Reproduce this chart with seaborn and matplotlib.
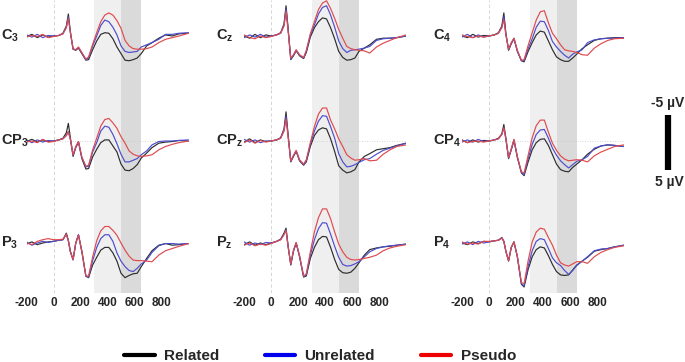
import pandas as pd
import matplotlib.pyplot as plt
from matplotlib.lines import Line2D
import seaborn as sns

sns.set_style("white")
plt.rcParams["font.family"] = ["Liberation Sans", "DejaVu Sans"]
plt.rcParams["mathtext.default"] = "regular"

# ---- data (µV, negative plotted up) ----
time_ms = [-200, -160, -120, -80, -40, 0, 40, 70, 95, 110, 125, 145, 165, 185, 210, 240, 260, 290,
           320, 350, 380, 410, 440, 470, 500, 530, 560, 590, 620, 650, 690, 730, 780, 830, 880, 930, 1000]
conditions = ["Related", "Unrelated", "Pseudo"]
electrodes = ["C$_3$", "C$_z$", "C$_4$",
              "CP$_3$", "CP$_z$", "CP$_4$",
              "P$_3$", "P$_z$", "P$_4$"]
xtick_values = [-200, 0, 200, 400, 600, 800]
window_n400 = [300, 500]
window_late = [500, 650]
scale_uv = [-5, 5]

c3_related = [0.1, -0.3, 0.3, -0.2, 0.2, 0.0, -0.1, -0.5, -1.8, -4.0, -0.8, 2.4, 2.6, 2.2, 3.2, 4.4, 4.3, 2.5,
              0.9, -0.3, -0.6, -0.5, 0.5, 2.0, 3.2, 4.4, 4.5, 4.3, 4.0, 3.2, 1.8, 1.2, 0.4, -0.2, 0.0, -0.4, -0.5]
c3_unrelated = [-0.2, 0.2, -0.3, 0.3, -0.1, 0.0, -0.1, -0.4, -1.6, -3.5, -0.6, 2.4, 2.5, 2.1, 3.1, 4.3, 4.0, 1.8,
                0.0, -1.9, -2.9, -2.6, -1.6, -0.2, 1.8, 2.8, 3.0, 2.9, 2.8, 2.0, 1.6, 1.2, 0.6, -0.3, -0.3, -0.5, -0.6]
c3_pseudo = [0.2, -0.1, 0.1, -0.3, 0.3, 0.1, -0.1, -0.4, -1.5, -3.2, -0.6, 2.3, 2.5, 2.0, 3.0, 4.2, 3.8, 1.5,
             -0.6, -2.6, -3.8, -4.2, -3.8, -2.8, -1.4, 0.8, 1.8, 2.3, 2.4, 2.4, 2.3, 2.0, 1.2, 0.6, 0.3, 0.0, -0.5]

cz_related = [0.0, 0.4, -0.3, 0.3, -0.2, 0.0, -0.2, -0.6, -2.2, -5.5, -1.5, 4.3, 3.6, 2.7, 3.6, 4.1, 3.0, 0.2,
              -1.5, -2.6, -3.3, -3.1, -1.5, 0.5, 2.8, 3.9, 4.4, 4.3, 4.0, 2.8, 2.2, 1.6, 0.6, 0.4, 0.4, 0.3, 0.0]
cz_unrelated = [0.3, -0.2, 0.2, -0.3, 0.2, 0.0, -0.2, -0.5, -2.0, -4.9, -1.2, 4.2, 3.5, 2.6, 3.5, 4.0, 2.8, -0.2,
                -2.0, -4.0, -5.2, -5.5, -3.8, -1.6, 0.9, 2.3, 3.0, 2.6, 2.5, 2.4, 2.2, 1.9, 0.8, 0.5, 0.4, 0.3, 0.0]
cz_pseudo = [-0.2, 0.3, 0.5, 0.0, 0.3, 0.1, -0.2, -0.5, -1.8, -4.5, -1.0, 4.0, 3.4, 2.5, 3.4, 3.9, 2.6, -0.4,
             -2.6, -4.8, -6.0, -6.4, -5.0, -3.2, -1.2, 0.4, 1.9, 2.3, 2.5, 2.6, 2.7, 3.1, 2.0, 1.3, 0.8, 0.3, -0.2]

c4_related = [0.0, 0.3, -0.3, 0.2, -0.1, 0.0, -0.2, -0.6, -1.8, -4.2, -0.5, 2.6, 1.4, 0.5, 2.8, 4.5, 4.7, 2.8,
              1.2, -0.2, -0.9, -0.7, 0.9, 2.5, 3.8, 4.3, 4.6, 4.6, 4.0, 3.3, 2.3, 1.6, 0.8, 0.5, 0.4, 0.3, 0.3]
c4_unrelated = [0.2, -0.3, 0.3, -0.2, 0.2, 0.0, -0.2, -0.5, -1.6, -3.5, -0.3, 2.5, 1.3, 0.4, 2.7, 4.5, 4.5, 2.3,
                0.5, -1.6, -2.7, -2.6, -1.0, 1.0, 2.0, 2.8, 3.5, 4.0, 3.3, 2.9, 2.5, 1.2, 0.7, 0.5, 0.4, 0.4, 0.3]
c4_pseudo = [-0.2, 0.1, 0.3, 0.0, 0.2, 0.0, -0.2, -0.5, -1.5, -3.0, -0.2, 2.4, 1.2, 0.4, 2.6, 4.4, 4.3, 1.7,
             -0.6, -2.9, -4.4, -4.6, -2.4, -0.5, 0.5, 1.6, 2.5, 2.7, 2.8, 3.0, 3.4, 3.5, 2.2, 1.4, 0.8, 0.5, 0.4]

cp3_related = [0.1, -0.3, 0.2, -0.2, 0.1, 0.0, -0.2, -0.5, -1.5, -3.2, -0.6, 2.8, 1.2, 0.2, 3.2, 5.1, 5.0, 2.9,
               1.5, 0.3, -0.2, -0.2, 0.9, 2.0, 4.2, 5.3, 5.4, 5.0, 4.3, 3.1, 2.2, 1.2, 0.4, 0.2, 0.1, -0.1, 0.0]
cp3_unrelated = [-0.2, 0.3, -0.2, 0.2, -0.1, 0.0, -0.2, -0.4, -1.0, -1.7, -0.3, 2.6, 1.1, 0.1, 3.0, 4.7, 4.6, 2.0,
                 0.3, -1.8, -2.7, -2.5, -1.2, 0.5, 2.4, 3.8, 3.8, 3.5, 3.2, 2.5, 1.8, 0.7, 0.1, 0.0, 0.0, -0.1, -0.2]
cp3_pseudo = [0.2, 0.0, 0.3, -0.3, 0.2, 0.1, -0.2, -0.4, -1.0, -1.7, -0.3, 2.5, 1.0, 0.1, 2.9, 4.6, 4.4, 1.6,
              -0.5, -2.7, -3.9, -4.1, -3.3, -2.3, -0.8, 0.4, 1.8, 2.4, 2.7, 2.8, 2.7, 2.5, 1.6, 1.0, 0.6, 0.3, 0.0]

cpz_related = [0.2, -0.4, 0.3, -0.2, 0.1, 0.0, -0.2, -0.6, -2.2, -5.3, -1.2, 3.8, 2.8, 1.9, 3.6, 4.4, 3.8, 1.0,
               -1.0, -2.0, -2.4, -2.2, -0.4, 1.9, 4.5, 5.3, 5.8, 5.6, 5.2, 3.8, 2.8, 2.3, 1.6, 1.4, 1.2, 0.8, 0.4]
cpz_unrelated = [-0.3, 0.2, -0.2, 0.3, 0.0, 0.0, -0.2, -0.5, -2.0, -4.5, -1.0, 3.7, 2.7, 1.8, 3.5, 4.3, 3.6, 0.6,
                 -1.8, -3.6, -4.6, -4.5, -2.6, -0.5, 2.3, 3.8, 4.7, 4.6, 4.3, 3.9, 3.4, 3.2, 2.4, 1.7, 1.3, 0.9, 0.4]
cpz_pseudo = [0.3, -0.2, 0.4, -0.1, 0.2, 0.0, -0.2, -0.5, -1.8, -4.0, -0.8, 3.6, 2.6, 1.7, 3.4, 4.2, 3.4, 0.3,
              -2.6, -4.9, -6.0, -6.0, -3.8, -2.2, -0.4, 1.0, 2.5, 3.1, 3.5, 3.4, 3.2, 3.6, 3.5, 2.4, 1.6, 1.0, 0.7]

cp4_related = [-0.2, 0.3, -0.2, 0.2, -0.1, 0.0, -0.2, -0.5, -1.3, -3.0, -0.5, 3.2, 1.6, -0.1, 3.0, 5.8, 6.3, 3.8,
               1.6, 0.3, -0.3, -0.4, 0.8, 2.5, 4.2, 5.2, 5.5, 5.6, 4.8, 4.2, 3.4, 2.4, 1.5, 0.9, 0.7, 0.8, 1.0]
cp4_unrelated = [0.2, -0.2, 0.2, -0.3, 0.1, 0.0, -0.2, -0.4, -1.2, -2.4, -0.4, 3.1, 1.5, -0.2, 2.9, 5.7, 6.1, 3.2,
                 0.6, -1.2, -2.0, -2.1, -0.5, 1.3, 2.6, 3.6, 4.3, 4.9, 4.3, 3.7, 3.4, 2.8, 1.3, 0.9, 0.7, 0.8, 1.0]
cp4_pseudo = [-0.1, 0.3, 0.1, 0.0, 0.2, 0.0, -0.2, -0.4, -1.2, -2.4, -0.4, 3.0, 1.4, -0.3, 2.8, 5.6, 5.8, 2.6,
              -0.6, -2.8, -3.8, -3.8, -1.6, 0.4, 1.7, 2.7, 3.3, 3.6, 3.5, 3.4, 3.5, 3.8, 2.7, 2.0, 1.5, 1.0, 0.7]

p3_related = [0.2, -0.2, 0.3, 0.0, -0.2, -0.3, -0.5, -0.6, -1.8, -0.5, 1.5, 3.0, 0.0, -1.5, 1.5, 6.0, 6.3, 4.0,
              2.6, 1.3, 0.8, 0.8, 1.8, 3.3, 5.5, 6.3, 5.9, 5.6, 5.5, 4.3, 2.8, 1.4, 0.4, 0.1, 0.4, 0.3, 0.1]
p3_unrelated = [-0.2, 0.4, 0.0, -0.3, -0.1, -0.3, -0.5, -0.6, -1.6, -0.4, 1.6, 3.1, 0.0, -1.5, 1.6, 6.1, 6.2, 3.2,
                0.8, -0.8, -1.5, -1.5, -0.3, 1.8, 3.3, 4.3, 5.0, 5.2, 4.6, 3.8, 3.1, 1.7, 0.5, 0.1, 0.1, 0.2, 0.1]
p3_pseudo = [0.0, 0.3, -0.3, -0.6, -0.8, -0.6, -0.6, -0.7, -1.6, -0.4, 1.6, 3.0, 0.0, -1.4, 1.5, 6.0, 6.0, 2.5,
             -0.4, -2.2, -3.0, -3.0, -2.3, -1.4, 0.0, 1.3, 2.4, 3.1, 3.2, 3.2, 3.3, 3.4, 2.2, 1.4, 1.0, 0.6, 0.1]

pz_related = [0.3, -0.2, 0.4, 0.0, 0.3, 0.0, -0.3, -0.7, -1.8, -2.7, 0.5, 4.0, 1.5, 0.0, 2.5, 6.2, 6.0, 2.8,
              0.8, -0.6, -1.2, -1.1, 0.8, 3.0, 4.8, 5.4, 5.5, 5.3, 4.6, 3.6, 2.2, 1.2, 0.9, 0.7, 0.6, 0.4, 0.2]
pz_unrelated = [-0.2, 0.4, 0.0, 0.3, -0.1, 0.0, -0.3, -0.6, -1.6, -2.4, 0.6, 3.9, 1.4, 0.0, 2.4, 6.1, 5.8, 2.2,
                -0.6, -2.6, -3.7, -3.6, -1.6, 0.6, 2.6, 3.9, 4.2, 4.1, 3.8, 3.4, 2.5, 1.6, 1.0, 0.7, 0.5, 0.4, 0.2]
pz_pseudo = [0.4, 0.0, 0.5, 0.2, 0.4, 0.1, -0.3, -0.6, -1.5, -2.3, 0.6, 3.8, 1.3, -0.1, 2.3, 6.0, 5.6, 1.6,
             -2.0, -4.6, -6.2, -6.2, -4.4, -2.0, 0.2, 1.6, 2.6, 3.0, 3.1, 3.0, 2.8, 2.6, 2.2, 1.4, 0.9, 0.6, 0.3]

p4_related = [0.0, 0.3, -0.2, 0.1, -0.3, -0.2, -0.4, -0.5, -1.0, -0.3, 1.5, 3.3, 0.8, -0.2, 2.5, 7.5, 8.0, 4.8,
              2.5, 1.2, 0.7, 0.9, 2.3, 3.9, 5.2, 5.8, 5.9, 5.8, 4.9, 4.0, 3.3, 2.6, 1.5, 1.2, 1.0, 0.7, 0.4]
p4_unrelated = [0.2, -0.2, 0.3, -0.3, 0.0, -0.2, -0.4, -0.5, -0.9, -0.3, 1.5, 3.2, 0.8, -0.2, 2.5, 7.4, 7.8, 4.2,
                1.4, -0.3, -0.8, -0.6, 1.0, 2.7, 3.6, 4.1, 5.0, 5.7, 5.0, 4.1, 3.3, 2.5, 1.4, 1.1, 1.0, 0.7, 0.4]
p4_pseudo = [-0.2, 0.2, 0.0, 0.2, -0.3, -0.3, -0.4, -0.5, -0.9, -0.3, 1.5, 3.2, 0.8, -0.2, 2.4, 7.2, 7.4, 3.2,
             -0.2, -2.0, -2.7, -2.5, -1.0, 0.4, 2.2, 3.6, 4.0, 4.2, 3.8, 3.4, 3.4, 3.7, 2.5, 1.7, 1.2, 0.8, 0.5]

panel_waves = [
    (c3_related, c3_unrelated, c3_pseudo), (cz_related, cz_unrelated, cz_pseudo), (c4_related, c4_unrelated, c4_pseudo),
    (cp3_related, cp3_unrelated, cp3_pseudo), (cpz_related, cpz_unrelated, cpz_pseudo), (cp4_related, cp4_unrelated, cp4_pseudo),
    (p3_related, p3_unrelated, p3_pseudo), (pz_related, pz_unrelated, pz_pseudo), (p4_related, p4_unrelated, p4_pseudo),
]

rows = []
for name, waves in zip(electrodes, panel_waves):
    for cond, wave in zip(conditions, waves):
        assert len(wave) == len(time_ms), (name, cond, len(wave))
        for t, v in zip(time_ms, wave):
            rows.append({"electrode": name, "condition": cond, "time": t, "uv": v})
erp = pd.DataFrame(rows)

line_colors = {"Related": "#2d2d2d", "Unrelated": "#4d4dcf", "Pseudo": "#e04a4e"}
legend_colors = {"Related": "#000000", "Unrelated": "#0000ee", "Pseudo": "#ee0000"}

# ---- layout (pixels) ----
W, H = 685, 362
col_left = [26.5, 244.2, 462.0]
label_x = [1, 216, 433]
px_per_ms = 0.135
px_per_uv = 5.5
row_edges = [0, 88.5, 192, 293]
row_base = [36, 141, 243]

fig = plt.figure(figsize=(W / 100, H / 100), dpi=100)

for i, name in enumerate(electrodes):
    r, c = divmod(i, 3)
    width = (1000 - (-200)) * px_per_ms
    ax = fig.add_axes([col_left[c] / W, 1 - row_edges[r + 1] / H, width / W,
                       (row_edges[r + 1] - row_edges[r]) / H])
    ax.axvspan(*window_n400, color="#efefef", lw=0, zorder=0)
    ax.axvspan(*window_late, color="#dadada", lw=0, zorder=0)
    ax.axvline(0, color="#cfcfcf", lw=0.6, ls=(0, (4, 3)), zorder=1)
    if r == 1:
        ax.axhline(0, color="#c8c8c8", lw=0.6, ls=(0, (1, 2)), zorder=1)
    sns.lineplot(data=erp[erp["electrode"] == name], x="time", y="uv", hue="condition",
                 hue_order=conditions, palette=line_colors, linewidth=0.85,
                 legend=False, ax=ax, zorder=3)
    ax.set_xlim(-200, 1000)
    ax.set_ylim((row_edges[r + 1] - row_base[r]) / px_per_uv, (row_edges[r] - row_base[r]) / px_per_uv)
    ax.set_xlabel("")
    ax.set_ylabel("")
    ax.set_yticks([])
    for s in ax.spines.values():
        s.set_visible(False)
    ax.patch.set_alpha(0)
    if r == 2:
        ax.set_xticks(xtick_values)
        ax.set_xticklabels([str(v) for v in xtick_values], fontsize=8.5, fontweight="bold")
        ax.tick_params(axis="x", length=0, pad=3)
    else:
        ax.set_xticks([])
    fig.text(label_x[c] / W, 1 - row_base[r] / H, name, fontsize=10.5, fontweight="bold",
             ha="left", va="center")

# scale bar
sax = fig.add_axes([655 / W, 1 - 190 / H, 26 / W, 90 / H])
sax.plot([0, 0], scale_uv, color="black", lw=4.5, solid_capstyle="butt")
sax.set_xlim(-1, 1)
sax.set_ylim((190 - 142) / px_per_uv, (100 - 142) / px_per_uv)
sax.axis("off")
sax.annotate(f"{scale_uv[0]} µV", (0, scale_uv[0]), xytext=(0, 3), textcoords="offset points",
             ha="center", va="bottom", fontsize=10, fontweight="bold", annotation_clip=False)
sax.annotate(f"{scale_uv[1]} µV", (0, scale_uv[1]), xytext=(1, -4), textcoords="offset points",
             ha="center", va="top", fontsize=10, fontweight="bold", annotation_clip=False)

handles = [Line2D([], [], color=legend_colors[cnd], lw=3) for cnd in conditions]
fig.legend(handles, conditions, loc="center", bbox_to_anchor=(320 / W, 1 - 356 / H), ncol=3,
           frameon=False, prop={"weight": "bold", "size": 11}, handlelength=2.0,
           handletextpad=0.6, columnspacing=3.0, borderpad=0, borderaxespad=0)

fig.savefig("out.png", dpi=100)
